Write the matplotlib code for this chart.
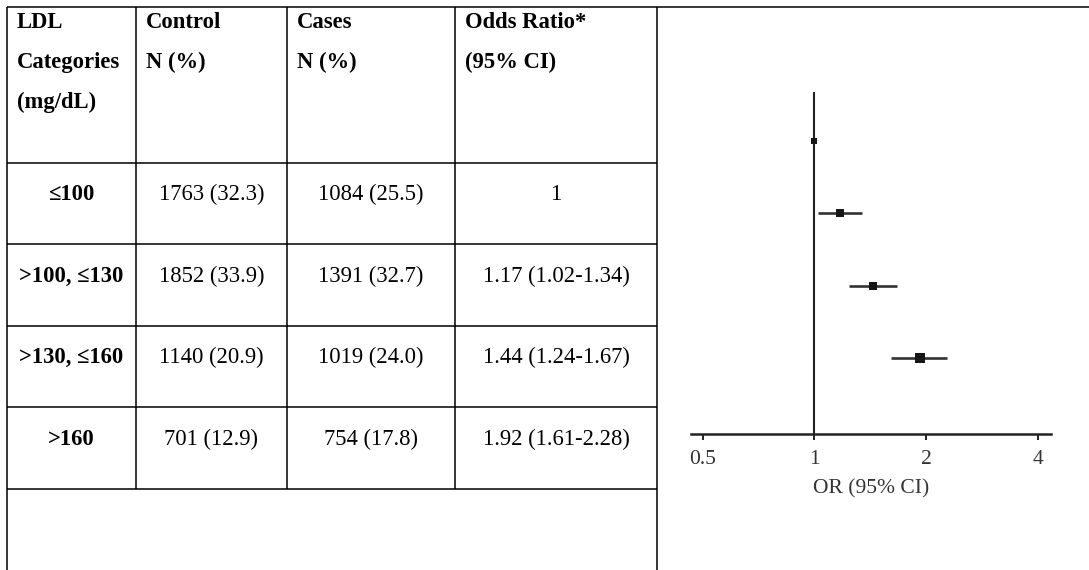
import matplotlib.pyplot as plt

plt.rcParams['font.family'] = ['Liberation Serif', 'DejaVu Serif']

# LDL categories: counts (%) for controls and cases, adjusted odds ratios
ldl_categories = ['≤100', '>100, ≤130', '>130, ≤160', '>160']
control_n = [1763, 1852, 1140, 701]
control_pct = [32.3, 33.9, 20.9, 12.9]
cases_n = [1084, 1391, 1019, 754]
cases_pct = [25.5, 32.7, 24.0, 17.8]
odds_ratio = [1.0, 1.17, 1.44, 1.92]
ci_low = [1.0, 1.02, 1.24, 1.61]
ci_high = [1.0, 1.34, 1.67, 2.28]
header = [['LDL', 'Categories', '(mg/dL)'],
          ['Control', 'N (%)'],
          ['Cases', 'N (%)'],
          ['Odds Ratio*', '(95% CI)']]
or_ticks = [0.5, 1, 2, 4]
or_tick_labels = ['0.5', '1', '2', '4']

W, H = 1089, 570
fig = plt.figure(figsize=(W / 100, H / 100), dpi=100)

# ---- table, drawn on a pixel canvas covering the whole figure ----
tab = fig.add_axes([0, 0, 1, 1])
tab.set_xlim(0, W)
tab.set_ylim(H, 0)
tab.axis('off')

col_x = [7, 136, 287, 455, 657]
top_y = 6.5
head_bottom = 162.5
row_h = 81.6
n_rows = len(ldl_categories)
last_line = head_bottom + n_rows * row_h
lw = 1.1

tab.hlines(top_y, col_x[0], W, color='black', lw=lw)
for i in range(n_rows + 1):
    tab.hlines(head_bottom + i * row_h, col_x[0], col_x[-1], color='black', lw=lw)
for j, x in enumerate(col_x):
    y_end = H if j in (0, len(col_x) - 1) else last_line
    tab.vlines(x, top_y, y_end, color='black', lw=lw)

fs = 16.3
for j, lines in enumerate(header):
    for k, txt in enumerate(lines):
        tab.text(col_x[j] + 10, 22.5 + 40 * k, txt, fontsize=fs,
                 fontweight='bold', ha='left', va='center')

for i in range(n_rows):
    if ci_low[i] == ci_high[i]:
        or_txt = f'{odds_ratio[i]:g}'
    else:
        or_txt = f'{odds_ratio[i]:.2f} ({ci_low[i]:.2f}-{ci_high[i]:.2f})'
    cells = [ldl_categories[i],
             f'{control_n[i]} ({control_pct[i]:.1f})',
             f'{cases_n[i]} ({cases_pct[i]:.1f})',
             or_txt]
    y = head_bottom + i * row_h + 32
    for j, txt in enumerate(cells):
        tab.text((col_x[j] + col_x[j + 1]) / 2, y, txt, fontsize=fs,
                 fontweight='bold' if j == 0 else 'normal',
                 ha='center', va='center')

# ---- forest plot ----
ax = fig.add_axes([691 / W, (H - 433.7) / H, (1050.7 - 691) / W, (433.7 - 92) / H])
ax.set_xscale('log', base=2)
ax.set_xlim(0.4648, 4.33)
ax.set_ylim(4.05, -0.68)

ink = '#222222'
ax.axvline(1, color=ink, lw=1.5, zorder=1)
rows = list(range(n_rows))
marker_px = [6.5, 8.5, 7.5, 9.5]
for i in rows:
    if ci_high[i] > ci_low[i]:
        ax.hlines(i, ci_low[i], ci_high[i], color='#333333', lw=1.9, zorder=2)
    ax.plot(odds_ratio[i], i, 's', color='#161616', ms=marker_px[i] * 0.72,
            mew=0, zorder=3)

for side in ('left', 'top', 'right'):
    ax.spines[side].set_visible(False)
ax.spines['bottom'].set_color(ink)
ax.spines['bottom'].set_linewidth(1.8)
ax.set_yticks([])
ax.set_xticks(or_ticks)
ax.set_xticklabels(or_tick_labels)
ax.minorticks_off()
ax.tick_params(axis='x', direction='out', length=4, width=1.4, color=ink,
               labelsize=15.5, labelcolor='#333333', pad=7.5)
ax.set_xlabel('OR (95% CI)', fontsize=15.5, color='#333333', labelpad=7.5)
ax.patch.set_alpha(0)

fig.savefig('out.png', dpi=100)
